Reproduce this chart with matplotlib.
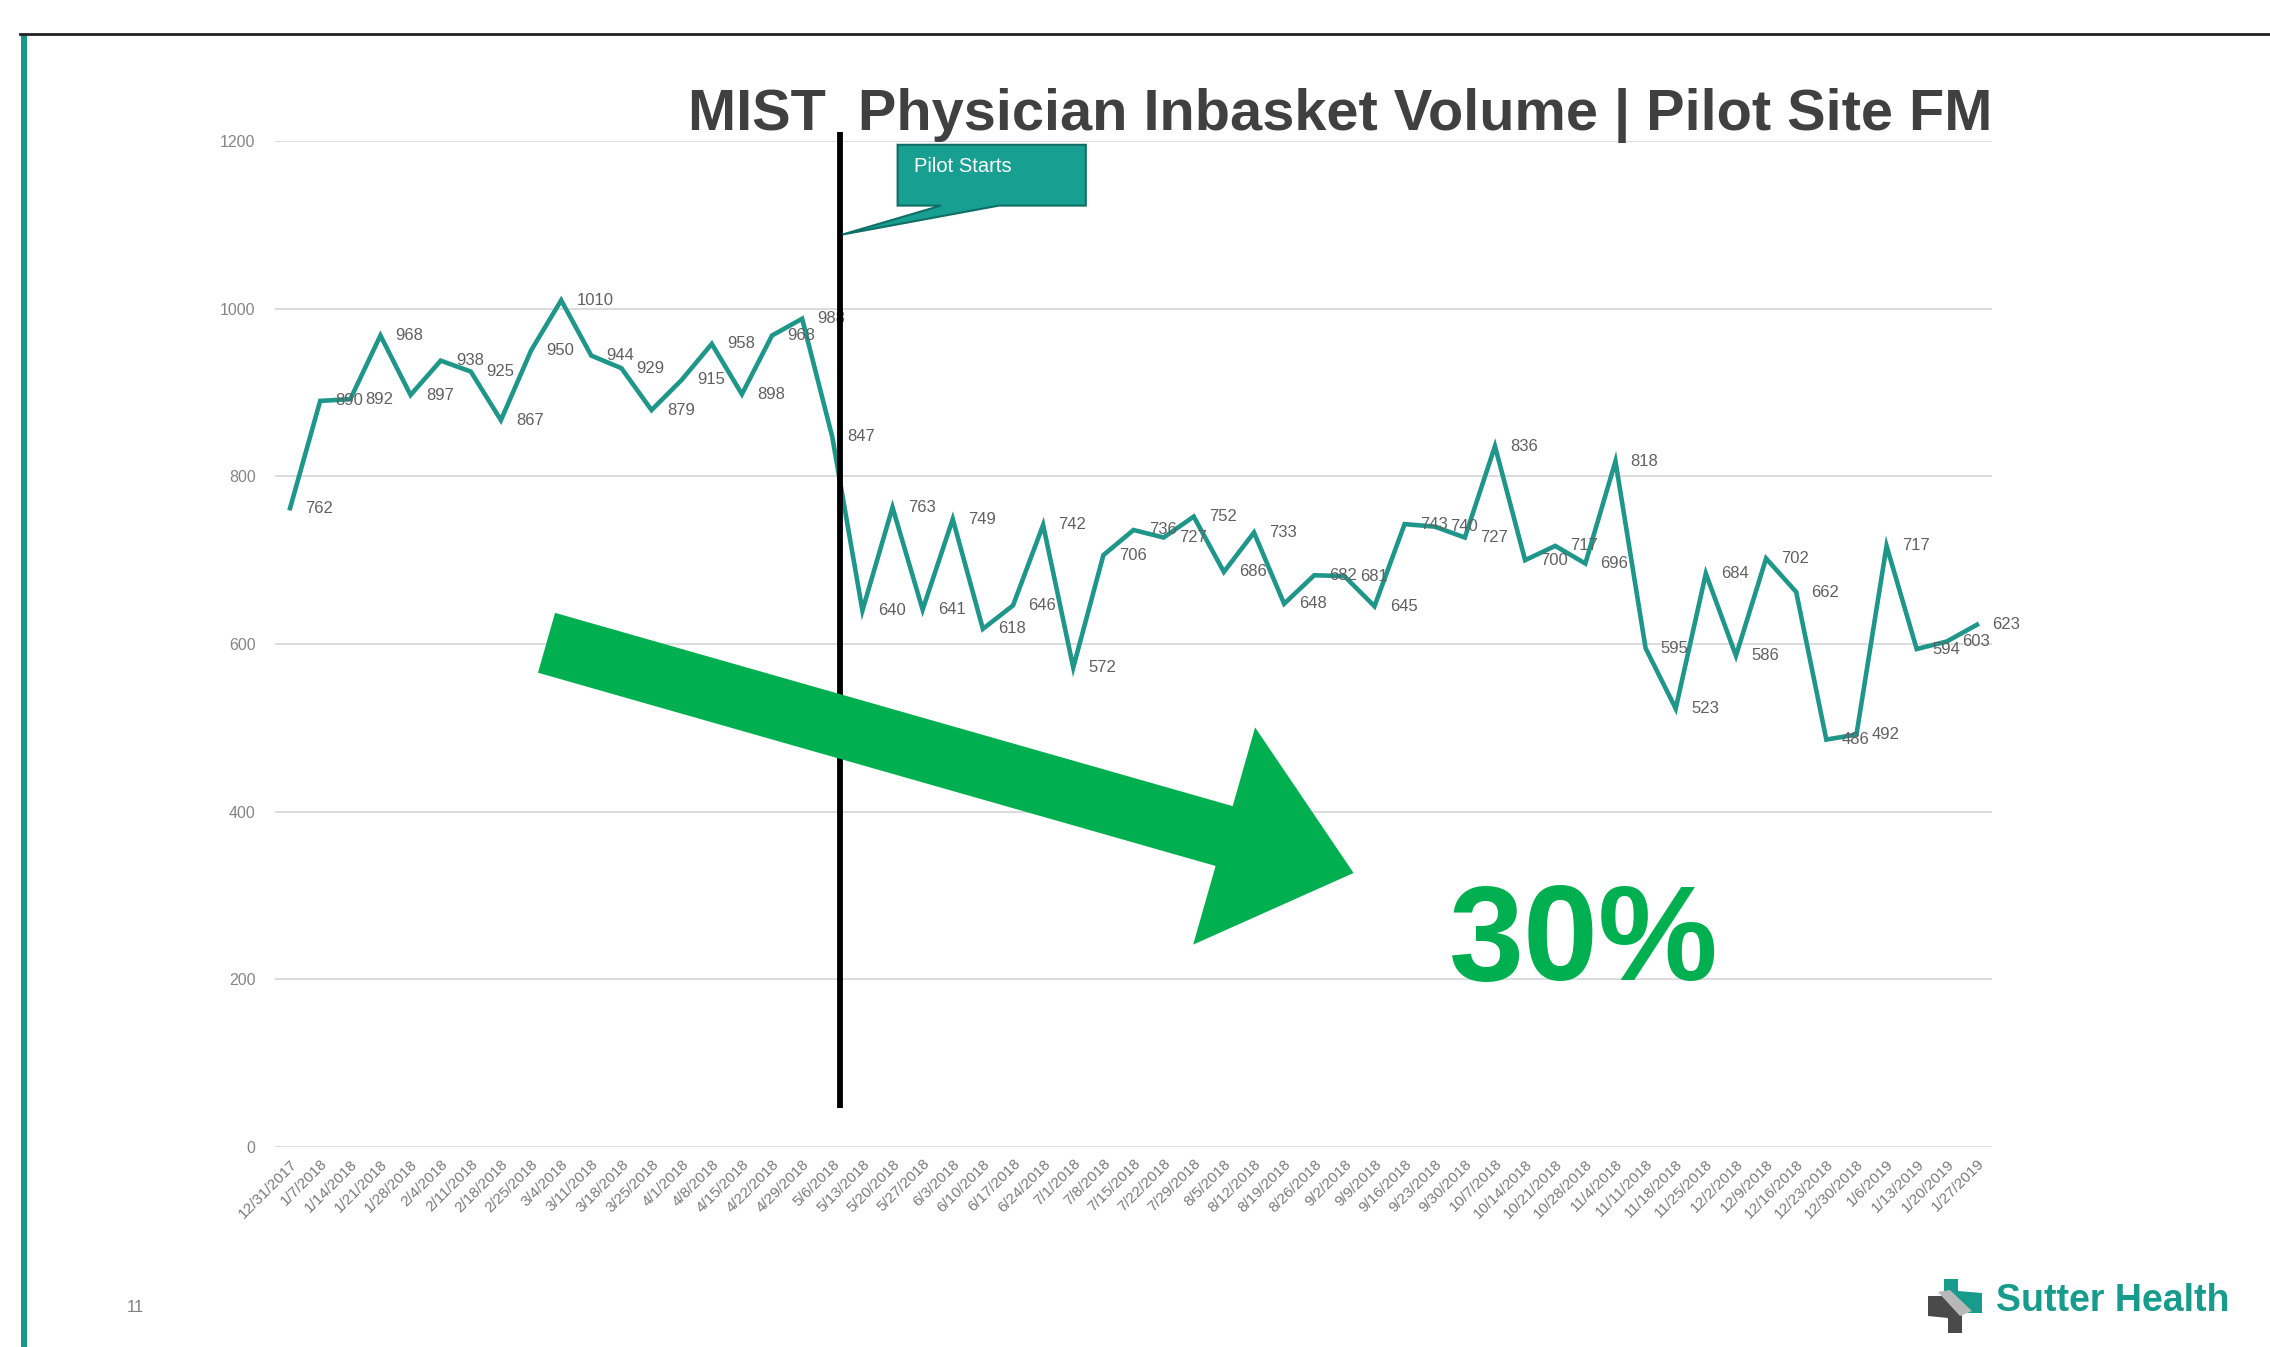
import matplotlib
matplotlib.use("Agg")
import matplotlib.pyplot as plt
from matplotlib.patches import Polygon, Rectangle
from matplotlib.lines import Line2D
import numpy as np

plt.rcParams['font.family'] = ['Liberation Sans', 'DejaVu Sans']

# ---------------- data ----------------
weeks = ["12/31/2017", "1/7/2018", "1/14/2018", "1/21/2018", "1/28/2018", "2/4/2018",
         "2/11/2018", "2/18/2018", "2/25/2018", "3/4/2018", "3/11/2018", "3/18/2018",
         "3/25/2018", "4/1/2018", "4/8/2018", "4/15/2018", "4/22/2018", "4/29/2018",
         "5/6/2018", "5/13/2018", "5/20/2018", "5/27/2018", "6/3/2018", "6/10/2018",
         "6/17/2018", "6/24/2018", "7/1/2018", "7/8/2018", "7/15/2018", "7/22/2018",
         "7/29/2018", "8/5/2018", "8/12/2018", "8/19/2018", "8/26/2018", "9/2/2018",
         "9/9/2018", "9/16/2018", "9/23/2018", "9/30/2018", "10/7/2018", "10/14/2018",
         "10/21/2018", "10/28/2018", "11/4/2018", "11/11/2018", "11/18/2018", "11/25/2018",
         "12/2/2018", "12/9/2018", "12/16/2018", "12/23/2018", "12/30/2018", "1/6/2019",
         "1/13/2019", "1/20/2019", "1/27/2019"]
volume = [762, 890, 892, 968, 897, 938, 925, 867, 950, 1010, 944, 929,
          879, 915, 958, 898, 968, 988, 847, 640, 763, 641, 749, 618,
          646, 742, 572, 706, 736, 727, 752, 686, 733, 648, 682, 681,
          645, 743, 740, 727, 836, 700, 717, 696, 818, 595, 523, 684,
          586, 702, 662, 486, 492, 717, 594, 603, 623]
y_ticks = [0, 200, 400, 600, 800, 1000, 1200]
pilot_start_pos = 18.26      # category position of the "Pilot Starts" marker
title = "MIST  Physician Inbasket Volume | Pilot Site FM"
reduction_text = "30%"

W, H = 2270, 1347
fig = plt.figure(figsize=(W / 100, H / 100), dpi=100)
fig.patch.set_facecolor('white')


def px(x, y):
    return (x / W, 1 - y / H)


TEAL = '#1f968a'
ax = fig.add_axes([275 / W, 1 - 1147 / H, (1992 - 275) / W, (1147 - 141) / H])
x = np.arange(len(volume))
ax.plot(x, volume, color=TEAL, lw=3.3, solid_joinstyle='miter', zorder=3)
for xi, v in zip(x, volume):
    ax.annotate(str(v), (xi, v), xytext=(11, 0), textcoords='offset points',
                ha='left', va='center', fontsize=12, color='#606060', zorder=4)

ax.set_xlim(-0.5, len(volume) - 0.5)
ax.set_ylim(0, 1200)
ax.set_yticks(y_ticks)
ax.set_yticklabels([str(t) for t in y_ticks], fontsize=11.5, color='#858585')
ax.set_xticks(x)
ax.set_xticklabels(weeks, rotation=45, ha='right', rotation_mode='anchor',
                   fontsize=11, color='#7a7a7a')
ax.tick_params(axis='y', length=0, pad=14)
ax.tick_params(axis='x', length=0, pad=7)
for s in ax.spines.values():
    s.set_visible(False)
ax.yaxis.grid(True, color='#d9d9d9', lw=1.3)
ax.set_axisbelow(True)

# pilot start marker
ax.plot([pilot_start_pos, pilot_start_pos], [47, 1211], color='black', lw=4.2,
        clip_on=False, zorder=5, solid_capstyle='butt')

# callout "Pilot Starts"
call = [(897.6, 144.8), (1085.8, 144.8), (1085.8, 205.6), (998.9, 205.6),
        (842.6, 234.5), (941, 205.6), (897.6, 205.6)]
fig.patches.append(Polygon([px(*p) for p in call], closed=True, transform=fig.transFigure,
                           facecolor='#17a091', edgecolor='#0f6f66', lw=1.5, zorder=6))
fig.text(*px(914, 167), "Pilot Starts", color='white', fontsize=14.5,
         ha='left', va='center', zorder=7)

# green arrow
T = np.array([377.5, 444.0])
P = np.array([935.0, 603.0])
u = (P - T) / np.linalg.norm(P - T)
n = np.array([-u[1], u[0]])
B = P - u * 93
sw, hw = 21.5, 78
arrow = [T - n * sw, B - n * sw, B - n * hw, P, B + n * hw, B + n * sw, T + n * sw]
arrow = [tuple(v * (W / 1568)) for v in arrow]
fig.patches.append(Polygon([px(*p) for p in arrow], closed=True, transform=fig.transFigure,
                           facecolor='#00b050', edgecolor='none', zorder=2))

fig.text(*px(1584, 945), reduction_text, color='#00b050', fontsize=97, fontweight='bold',
         ha='center', va='center')

# title
fig.text(*px(1992, 130), title, fontsize=41.6, fontweight='bold', color='#404040',
         ha='right', va='baseline')

# slide frame
fig.lines.append(Line2D([20 / W, 1], [1 - 34 / H] * 2, transform=fig.transFigure,
                        color='#222222', lw=2))
fig.patches.append(Rectangle(px(21, H), 6 / W, (H - 35) / H, transform=fig.transFigure,
                             facecolor='#16998a', edgecolor='none'))

# slide number
fig.text(*px(135, 1308), "11", fontsize=12, color='#808080', ha='center', va='center')

# logo
teal_piece = [(1944, 1279), (1958, 1279), (1958, 1291), (1982, 1293), (1982, 1313),
              (1968, 1313), (1950, 1300), (1944, 1296)]
grey_piece = [(1928, 1296), (1942, 1296), (1962, 1310), (1962, 1333), (1948, 1333),
              (1948, 1318), (1928, 1316)]
band = [(1938, 1292), (1950, 1290), (1972, 1311), (1960, 1316)]
fig.patches.append(Polygon([px(*p) for p in teal_piece], transform=fig.transFigure,
                           facecolor='#169b8c', edgecolor='none'))
fig.patches.append(Polygon([px(*p) for p in grey_piece], transform=fig.transFigure,
                           facecolor='#4a4a4a', edgecolor='none'))
fig.patches.append(Polygon([px(*p) for p in band], transform=fig.transFigure,
                           facecolor='#b8b8b8', edgecolor='none'))
fig.text(*px(1996, 1301), "Sutter Health", fontsize=27, fontweight='bold',
         color='#169b8c', ha='left', va='center')

fig.savefig("out.png", dpi=100, facecolor='white')
